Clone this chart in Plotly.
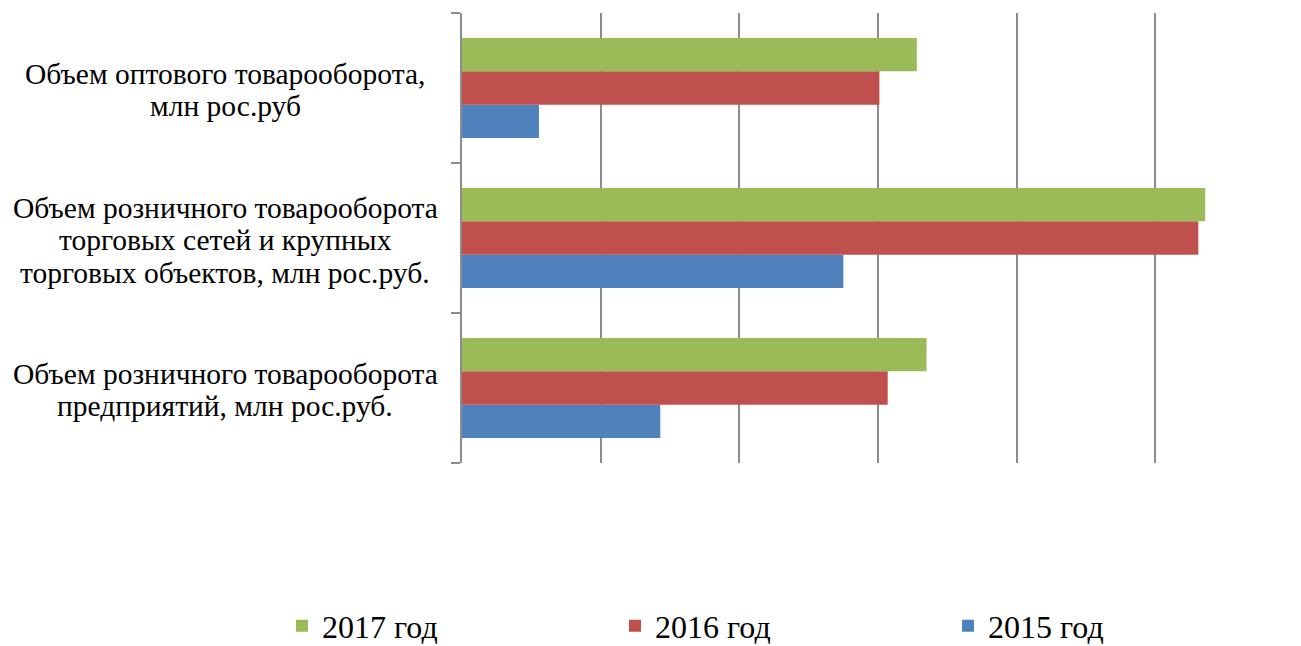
import plotly.graph_objects as go

categories = [
    "Объем розничного товарооборота предприятий, млн рос.руб.",
    "Объем розничного товарооборота торговых сетей и крупных торговых объектов, млн рос.руб.",
    "Объем оптового товарооборота, млн рос.руб",
]
category_lines = [
    ["Объем розничного товарооборота", "предприятий, млн рос.руб."],
    ["Объем розничного товарооборота", "торговых сетей и крупных", "торговых объектов, млн рос.руб."],
    ["Объем оптового товарооборота,", "млн рос.руб"],
]
series_names = ["2015 год", "2016 год", "2017 год"]
values_2015 = [1.43, 2.75, 0.555]
values_2016 = [3.07, 5.31, 3.01]
values_2017 = [3.35, 5.36, 3.28]
colors = ["#4F81BD", "#C0504D", "#9BBB59"]

FONT = "Liberation Serif"
W, H = 1301, 646

fig = go.Figure()
legend_ids = ["legend3", "legend2", "legend"]
legend_text_x = [990, 657, 324]
for name, vals, col, lid in zip(series_names, [values_2015, values_2016, values_2017], colors, legend_ids):
    fig.add_trace(go.Bar(
        y=categories, x=vals, name=name, orientation="h",
        marker=dict(color=col, line=dict(width=0)),
        legend=lid,
    ))

def legend_cfg(text_x):
    return dict(
        orientation="h",
        xref="container", yref="container",
        x=(text_x - 42) / W, y=(H - 626) / H,
        xanchor="left", yanchor="middle",
        font=dict(size=32, family=FONT, color="black"),
        bgcolor="rgba(0,0,0,0)", borderwidth=0,
    )

fig.update_layout(
    barmode="group",
    bargap=1/3,
    bargroupgap=0,
    width=W, height=H,
    paper_bgcolor="white", plot_bgcolor="white",
    margin=dict(l=462, r=W - 1294, t=13, b=H - 463, autoexpand=False),
    font=dict(family=FONT, color="black"),
    legend=legend_cfg(legend_text_x[2]),
    legend2=legend_cfg(legend_text_x[1]),
    legend3=legend_cfg(legend_text_x[0]),
    showlegend=True,
)

plot_w = 1294 - 462
label_center_x = (225 - 462) / plot_w
line_step = 32.5
for cat, lines in zip(categories, category_lines):
    n = len(lines)
    for i, ln in enumerate(lines):
        fig.add_annotation(
            x=label_center_x, xref="paper", y=cat, yref="y",
            text=ln, showarrow=False, xanchor="center", yanchor="middle",
            yshift=((n - 1) / 2 - i) * line_step - 2,
            font=dict(size=29.5, family=FONT, color="black"),
        )

fig.update_xaxes(
    range=[0, 6], dtick=1, showgrid=True, gridcolor="#8C8C8C", gridwidth=2,
    showticklabels=False, zeroline=False, showline=False, ticks="",
)
fig.update_yaxes(
    showline=True, linecolor="#8C8C8C", linewidth=2,
    ticks="outside", ticklen=9, tickcolor="#8C8C8C", tickwidth=2,
    tickson="boundaries", showgrid=False, showticklabels=False,
)

fig.write_html(
    "out.html",
    config={"displayModeBar": False},
    post_script="document.body.style.margin='0';",
)
